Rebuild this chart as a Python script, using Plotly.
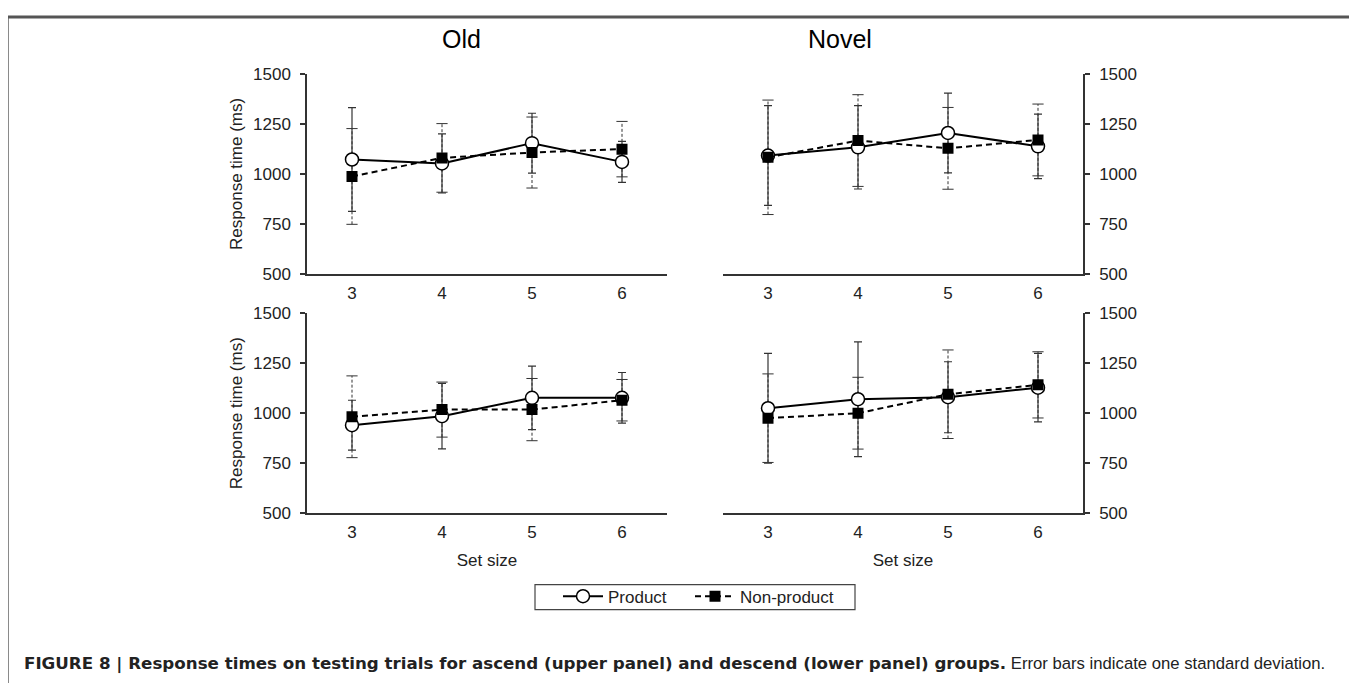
import plotly.graph_objects as go

# ---------------- data ----------------
set_sizes = [3, 4, 5, 6]
tick_y = [500, 750, 1000, 1250, 1500]

# upper panels (ascend group)
old_asc_prod = [1072, 1052, 1154, 1060]
old_asc_prod_sd = [260, 148, 150, 103]
old_asc_non = [987, 1080, 1107, 1124]
old_asc_non_sd = [240, 172, 178, 139]

nov_asc_prod = [1092, 1133, 1205, 1138]
nov_asc_prod_sd = [250, 209, 200, 162]
nov_asc_non = [1083, 1167, 1128, 1170]
nov_asc_non_sd = [287, 230, 205, 180]

# lower panels (descend group)
old_des_prod = [940, 985, 1077, 1077]
old_des_prod_sd = [125, 164, 159, 127]
old_des_non = [982, 1018, 1018, 1065]
old_des_non_sd = [205, 138, 156, 104]

nov_des_prod = [1025, 1070, 1080, 1128]
nov_des_prod_sd = [275, 288, 178, 172]
nov_des_non = [975, 1000, 1095, 1142]
nov_des_non_sd = [222, 180, 222, 166]

panel_titles = ["Old", "Novel"]
series_names = ["Product", "Non-product"]
y_title = "Response time (ms)"
x_title = "Set size"
caption_bold = ("FIGURE 8 | Response times on testing trials for ascend (upper panel) "
                "and descend (lower panel) groups.")
caption_rest = " Error bars indicate one standard deviation."

# ---------------- layout geometry ----------------
OFF = 8                      # page body margin
W, H = 1357 - OFF, 685
FONT = "Liberation Sans, Arial, Helvetica, sans-serif"
INK = "#222222"
AX = "#333333"

def px(v):
    return (v - OFF) / W

def py(v):
    # compensate for observed vertical placement of the photographed page
    return 1 - ((v - 15.7) / 0.975) / H

def xdom(a, b):
    return [px(a), px(b)]

def ydom(top, bottom):
    return [py(bottom), py(top)]

panels = [
    ("x", "y", xdom(307, 667), ydom(73, 273), old_asc_prod, old_asc_prod_sd, old_asc_non, old_asc_non_sd, "left", True, False),
    ("x2", "y2", xdom(723, 1083), ydom(73, 273), nov_asc_prod, nov_asc_prod_sd, nov_asc_non, nov_asc_non_sd, "right", False, False),
    ("x3", "y3", xdom(307, 667), ydom(313, 513), old_des_prod, old_des_prod_sd, old_des_non, old_des_non_sd, "left", True, True),
    ("x4", "y4", xdom(723, 1083), ydom(313, 513), nov_des_prod, nov_des_prod_sd, nov_des_non, nov_des_non_sd, "right", False, True),
]

fig = go.Figure()
layout = {}

for i, (xa, ya, xd, yd, prod, psd, non, nsd, side, has_yt, has_xt) in enumerate(panels):
    first = i == 0
    ex, ey = [], []
    for xv, m, s in zip(set_sizes, non, nsd):
        ex += [xv, xv, None]
        ey += [m - s, m + s, None]
    fig.add_trace(go.Scatter(x=ex, y=ey, mode="lines", xaxis=xa, yaxis=ya,
                             line=dict(color=AX, width=1, dash="3px,2px"),
                             showlegend=False, hoverinfo="skip"))
    cx, cy = [], []
    for xv, m, s in zip(set_sizes, non, nsd):
        cx += [xv, xv]
        cy += [m - s, m + s]
    fig.add_trace(go.Scatter(x=cx, y=cy, mode="markers", xaxis=xa, yaxis=ya,
                             marker=dict(symbol="line-ew", size=8,
                                         line=dict(color=AX, width=1)),
                             showlegend=False, hoverinfo="skip"))
    fig.add_trace(go.Scatter(
        x=set_sizes, y=prod, mode="lines+markers", name=series_names[0],
        xaxis=xa, yaxis=ya, showlegend=first, legend="legend",
        line=dict(color="black", width=2),
        marker=dict(symbol="circle", size=13, color="white",
                    line=dict(color="black", width=1.5)),
        error_y=dict(type="data", array=psd, visible=True, color=AX,
                     thickness=1.2, width=4)))
    fig.add_trace(go.Scatter(
        x=set_sizes, y=non, mode="lines+markers", name=series_names[1],
        xaxis=xa, yaxis=ya, showlegend=first, legend="legend2",
        line=dict(color="black", width=2, dash="6px,4px"),
        marker=dict(symbol="square", size=11, color="black",
                    line=dict(color="black", width=0))))

    xkey = "xaxis" if xa == "x" else "xaxis" + xa[1:]
    ykey = "yaxis" if ya == "y" else "yaxis" + ya[1:]
    layout[xkey] = dict(
        domain=xd, anchor=ya, range=[2.5, 6.5], tickvals=set_sizes,
        showline=True, linecolor=AX, linewidth=1.5, ticks="",
        showgrid=False, zeroline=False, ticklabelstandoff=3,
        tickfont=dict(size=17, color=INK, family=FONT),
        title=dict(text=x_title if has_xt else "", standoff=13,
                   font=dict(size=17, color=INK, family=FONT)))
    layout[ykey] = dict(
        domain=yd, anchor=xa, side=side, range=[500, 1500], tickvals=tick_y,
        showline=True, linecolor=AX, linewidth=1.5, ticks="outside",
        ticklen=5, tickwidth=1.5, tickcolor=AX, showgrid=False,
        zeroline=False, ticklabelstandoff=6,
        tickfont=dict(size=17, color=INK, family=FONT),
        title=dict(text=y_title if has_yt else "", standoff=6,
                   font=dict(size=17, color=INK, family=FONT)))

annotations = [
    dict(text=panel_titles[0], x=px(461), y=py(38), xref="paper", yref="paper",
         showarrow=False, xanchor="center", yanchor="middle",
         font=dict(size=25, color="black", family=FONT)),
    dict(text=panel_titles[1], x=px(840), y=py(38), xref="paper", yref="paper",
         showarrow=False, xanchor="center", yanchor="middle",
         font=dict(size=25, color="black", family=FONT)),
    dict(text="<b><span style=\"font-family:DejaVu Sans\">" + caption_bold
              + "</span></b>" + caption_rest,
         x=px(22), y=py(664), xref="paper", yref="paper",
         showarrow=False, xanchor="left", yanchor="middle",
         font=dict(size=16.7, color=INK, family=FONT)),
]

shapes = [
    # outer frame
    dict(type="line", xref="paper", yref="paper", x0=0, x1=0,
         y0=0, y1=1, line=dict(color="#8a8a8a", width=2)),
    dict(type="line", xref="paper", yref="paper", x0=0, x1=px(1356),
         y0=1, y1=1, line=dict(color="#555555", width=3)),
    dict(type="line", xref="paper", yref="paper", x0=px(1356), x1=px(1356),
         y0=0, y1=1, line=dict(color="#8a8a8a", width=2)),
    # legend frame
    dict(type="rect", xref="paper", yref="paper", x0=px(535), x1=px(855),
         y0=py(610), y1=py(585), line=dict(color="#444444", width=1.2),
         fillcolor="rgba(0,0,0,0)"),
]

leg_common = dict(orientation="h", yanchor="middle", xanchor="left",
                  bgcolor="rgba(0,0,0,0)", borderwidth=0,
                  font=dict(size=17, color=INK, family=FONT), itemwidth=40)

fig.update_layout(
    width=W, height=H,
    margin=dict(l=0, r=0, t=0, b=0),
    paper_bgcolor="white", plot_bgcolor="white",
    font=dict(family=FONT, color=INK, size=16),
    showlegend=True,
    legend=dict(x=px(558), y=py(597), **leg_common),
    legend2=dict(x=px(690), y=py(597), **leg_common),
    annotations=annotations,
    shapes=shapes,
    **layout,
)

fig.write_html("out.html")
